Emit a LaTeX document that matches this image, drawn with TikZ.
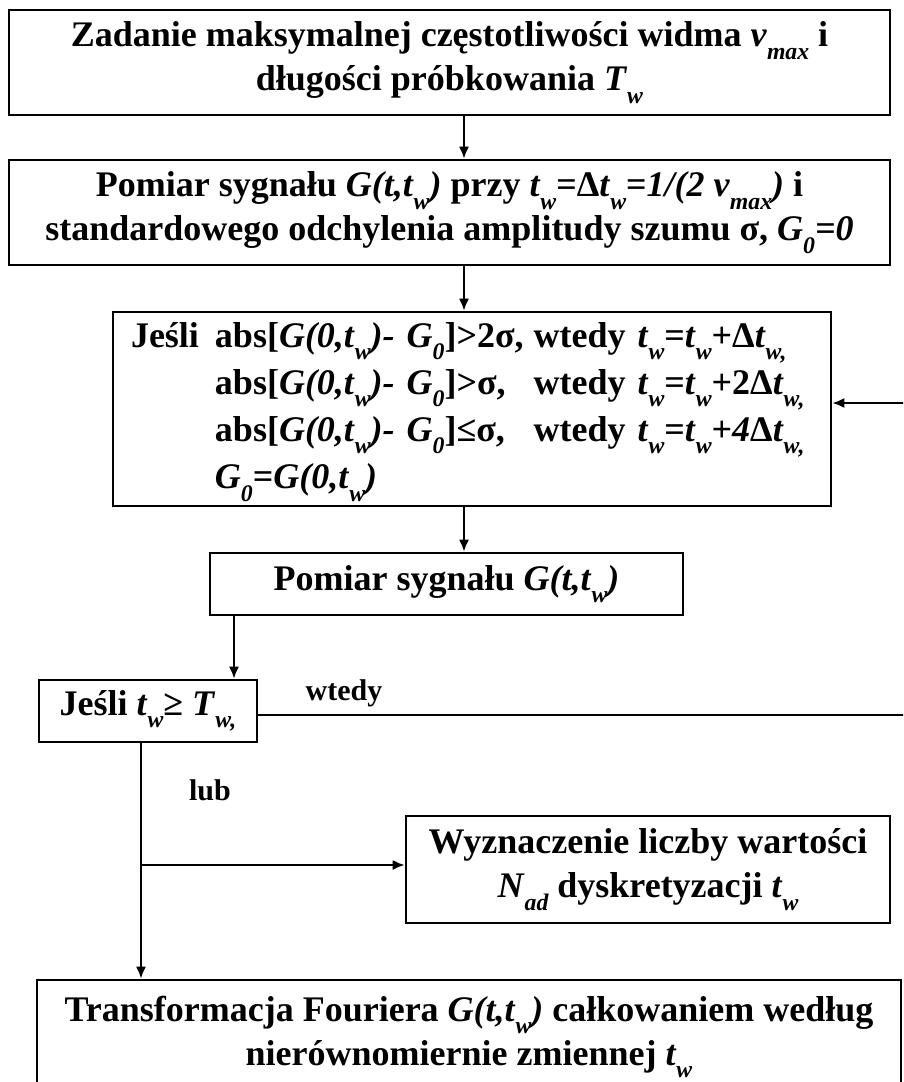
\documentclass[tikz,border=0pt]{standalone}
\usepackage{fontspec}
\setmainfont{Liberation Serif}
\usetikzlibrary{arrows.meta}
\makeatletter
\newcommand{\ssub}[1]{\raisebox{-0.35em}{\fontsize{\the\dimexpr0.66\dimexpr\f@size pt\relax\relax}{1pt}\selectfont\itshape #1}}
\makeatother
\newcommand{\ti}[1]{\textit{#1}}
\begin{document}
\begin{tikzpicture}[x=1pt,y=-1pt,
  box/.style={draw, line width=2.6pt, inner sep=0pt, align=center,
    font=\bfseries\fontsize{36}{44}\selectfont},
  conn/.style={line width=2pt},
  arr/.style={conn, -{Latex[length=12pt,width=10pt]}},
  lbl/.style={font=\bfseries\fontsize{30}{30}\selectfont, inner sep=0pt}]
\useasboundingbox (0,0) rectangle (903,1082);
\clip (0,0) rectangle (903,1082);

\node[box, minimum width=881pt, minimum height=105pt] (b1) at (449.5,62.5)
  {Zadanie maksymalnej częstotliwości widma \ti{v}\ssub{max} i\\ długości próbkowania \ti{T}\ssub{w}};

\node[box, minimum width=881pt, minimum height=105pt] (b2) at (449.5,212.5)
  {Pomiar sygnału \ti{G(t,t}\ssub{w}\ti{)} przy \ti{t}\ssub{w}=Δ\ti{t}\ssub{w}=\ti{1/(2 v}\ssub{max}\ti{)} i\\ standardowego odchylenia amplitudy szumu σ, \ti{G}\ssub{0}\ti{=0}};

\node[box, minimum width=718pt, minimum height=194pt, text width=682pt, align=left] (b3) at (472,409)
  {\begin{tabular}{@{}l@{\hspace{16pt}}l@{\hspace{10pt}}l@{}}
  Jeśli & abs[\ti{G(0,t}\ssub{w}\ti{)- G}\ssub{0}]>2σ, & wtedy \ti{t}\ssub{w}=\ti{t}\ssub{w}+Δ\ti{t}\ssub{w,}\\
   & abs[\ti{G(0,t}\ssub{w}\ti{)- G}\ssub{0}]>σ, & wtedy \ti{t}\ssub{w}=\ti{t}\ssub{w}+2Δ\ti{t}\ssub{w,}\\
   & abs[\ti{G(0,t}\ssub{w}\ti{)- G}\ssub{0}]≤σ, & wtedy \ti{t}\ssub{w}=\ti{t}\ssub{w}+\ti{4}Δ\ti{t}\ssub{w,}\\
   & \ti{G}\ssub{0}=\ti{G(0,t}\ssub{w}\ti{)} & 
  \end{tabular}};

\node[box, minimum width=473pt, minimum height=62pt] (b4) at (446.5,584)
  {Pomiar sygnału \ti{G(t,t}\ssub{w}\ti{)}};

\node[box, minimum width=218pt, minimum height=62pt] (b5) at (148,711)
  {Jeśli \ti{t}\ssub{w}≥ \ti{T}\ssub{w,}};

\node[box, minimum width=484pt, minimum height=107pt] (b6) at (648,869.5)
  {Wyznaczenie liczby wartości\\ \ti{N}\ssub{ad} dyskretyzacji \ti{t}\ssub{w}};

\node[box, minimum width=864pt, minimum height=114pt] (b7) at (469,1037)
  {Transformacja Fouriera \ti{G(t,t}\ssub{w}\ti{)} całkowaniem według\\ nierównomiernie zmiennej \ti{t}\ssub{w}};

\node[lbl, anchor=base] (lw) at (344,700) {wtedy};
\node[lbl, anchor=base] (ll) at (210,800) {lub};

\coordinate (ax) at (464,0);
\coordinate (bx) at (234,0);
\coordinate (cx) at (141,0);
\coordinate (rt) at (907,0);
\coordinate (br) at (141,865);

\draw[arr] (b1.south -| ax) -- (b2.north -| ax);
\draw[arr] (b2.south -| ax) -- (b3.north -| ax);
\draw[arr] (b3.south -| ax) -- (b4.north -| ax);
\draw[arr] (b4.south -| bx) -- (b5.north -| bx);
\draw[arr] ([yshift=-4pt]b5.east) -- ([yshift=-4pt]b5.east -| rt) -- ([yshift=6pt]b3.east -| rt) -- ([yshift=6pt]b3.east);
\draw[arr] (b5.south -| cx) -- (b7.north -| cx);
\draw[arr] (br) -- (br -| b6.west);
\end{tikzpicture}
\end{document}
